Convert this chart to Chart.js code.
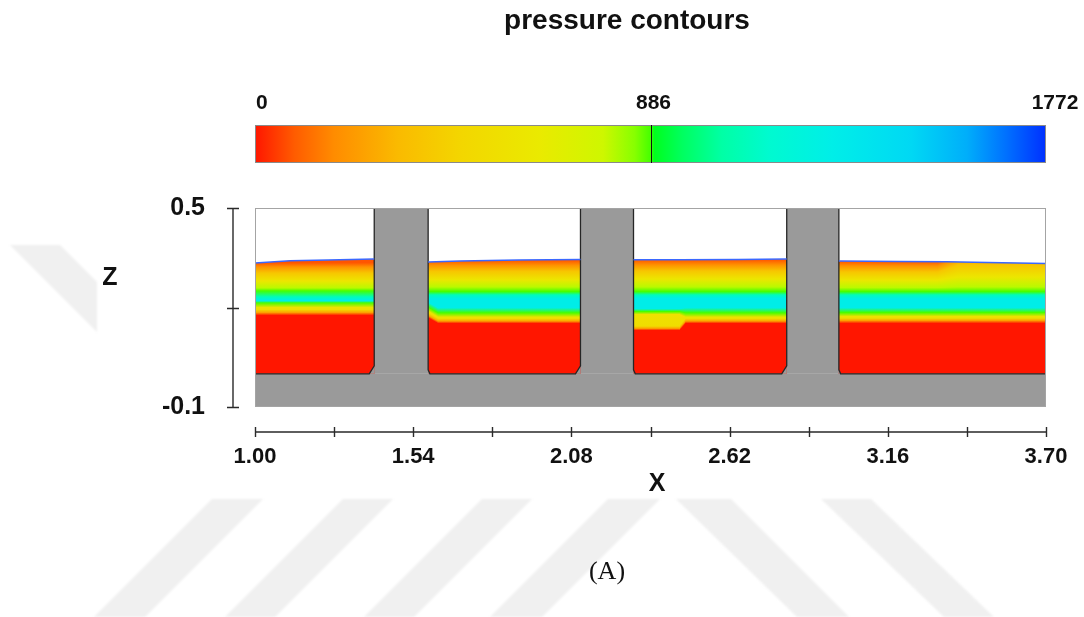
<!DOCTYPE html>
<html>
<head>
<meta charset="utf-8">
<script src="https://cdn.jsdelivr.net/npm/chart.js@4.4.1/dist/chart.umd.min.js"></script>
<style>
  html, body { margin: 0; padding: 0; background: #ffffff; }
  #wrap { width: 1084px; height: 617px; position: relative; }
</style>
</head>
<body>
<div id="wrap"><canvas id="chart"></canvas></div>
<script>
// ---- axes ----
const xTicks = [1.00, 1.27, 1.54, 1.81, 2.08, 2.35, 2.62, 2.89, 3.16, 3.43, 3.70];
const xTickLabels = ['1.00', '', '1.54', '', '2.08', '', '2.62', '', '3.16', '', '3.70'];
const zTicks = [-0.1, 0.2, 0.5];
const zTickLabels = ['-0.1', '', '0.5'];
const pressureTicks = [0, 886, 1772];
const pressureRange = [0, 1772];

// ---- geometry: tank floor, baffles (pillars) ----
const domainX = [1.0, 3.7];
const domainZ = [-0.1, 0.5];
const floorTop = 0.0;
const pillars = [[1.407, 1.591], [2.111, 2.292], [2.815, 2.993]];

// ---- free surface in each compartment (x, z) ----
const surface1 = [{x: 1.000, y: 0.334}, {x: 1.120, y: 0.341}, {x: 1.250, y: 0.343}, {x: 1.407, y: 0.346}];
const surface2 = [{x: 1.591, y: 0.337}, {x: 1.700, y: 0.340}, {x: 1.900, y: 0.343}, {x: 2.111, y: 0.345}];
const surface3 = [{x: 2.292, y: 0.344}, {x: 2.450, y: 0.344}, {x: 2.650, y: 0.345}, {x: 2.815, y: 0.346}];
const surface4 = [{x: 2.993, y: 0.340}, {x: 3.200, y: 0.339}, {x: 3.360, y: 0.338}, {x: 3.550, y: 0.335}, {x: 3.700, y: 0.333}];

// ---- pressure field: contour levels (Pa) and their depth z in each compartment ----
const levelPressure = [80, 200, 380, 600, 800, 886, 1100, 1300, 1300, 886, 560, 520, 250, 0];
const cell1X = [1.000];
const cell1Z = [
  [0.335, 0.322, 0.304, 0.280, 0.259, 0.250, 0.232, 0.222, 0.220, 0.214, 0.200, 0.194, 0.185, 0.176]
];
const cell2X = [1.595, 1.625];
const cell2Z = [
  [0.343, 0.327, 0.309, 0.284, 0.262, 0.248, 0.238, 0.226, 0.214, 0.199, 0.187, 0.182, 0.174, 0.167],
  [0.343, 0.327, 0.309, 0.284, 0.262, 0.248, 0.238, 0.226, 0.199, 0.184, 0.171, 0.167, 0.159, 0.152]
];
const cell3X = [2.449, 2.470];
const cell3Z = [
  [0.345, 0.328, 0.310, 0.286, 0.262, 0.248, 0.238, 0.227, 0.196, 0.188, 0.179, 0.144, 0.137, 0.131],
  [0.345, 0.328, 0.310, 0.286, 0.262, 0.248, 0.238, 0.227, 0.199, 0.184, 0.171, 0.167, 0.159, 0.152]
];
const cell4X = [3.330, 3.400];
const cell4Z = [
  [0.340, 0.325, 0.307, 0.283, 0.260, 0.248, 0.238, 0.226, 0.199, 0.185, 0.173, 0.168, 0.161, 0.152],
  [0.358, 0.348, 0.328, 0.292, 0.262, 0.248, 0.238, 0.226, 0.199, 0.185, 0.173, 0.168, 0.161, 0.152]
];

const cells = [
  {x0: domainX[0],    x1: pillars[0][0], ax: cell1X, az: cell1Z, surf: surface1},
  {x0: pillars[0][1], x1: pillars[1][0], ax: cell2X, az: cell2Z, surf: surface2},
  {x0: pillars[1][1], x1: pillars[2][0], ax: cell3X, az: cell3Z, surf: surface3},
  {x0: pillars[2][1], x1: domainX[1],    ax: cell4X, az: cell4Z, surf: surface4}
];

// ---- colour map: red (low) -> yellow -> green -> cyan -> blue (high) ----
const cmapStops = [
  [0.000, [255, 22, 0]],
  [0.050, [255, 92, 0]],
  [0.100, [255, 140, 0]],
  [0.180, [250, 186, 0]],
  [0.260, [243, 214, 0]],
  [0.360, [234, 234, 0]],
  [0.440, [206, 247, 0]],
  [0.480, [135, 255, 0]],
  [0.500, [70, 255, 0]],
  [0.505, [0, 255, 30]],
  [0.540, [0, 255, 95]],
  [0.590, [0, 255, 165]],
  [0.650, [0, 250, 208]],
  [0.730, [0, 238, 232]],
  [0.830, [0, 216, 244]],
  [0.900, [0, 174, 250]],
  [0.950, [0, 112, 255]],
  [1.000, [0, 48, 255]]
];
function cmapT(t) {
  t = Math.max(0, Math.min(1, t));
  for (let i = 0; i < cmapStops.length - 1; i++) {
    const [t0, c0] = cmapStops[i], [t1, c1] = cmapStops[i + 1];
    if (t <= t1) {
      const f = (t - t0) / (t1 - t0 || 1);
      return 'rgb(' + c0.map((v, k) => Math.round(v + (c1[k] - v) * f)).join(',') + ')';
    }
  }
  return 'rgb(' + cmapStops[cmapStops.length - 1][1].join(',') + ')';
}
function cmap(p) {
  return cmapT((p - pressureRange[0]) / (pressureRange[1] - pressureRange[0]));
}

function levelsAt(ax, az, x) {
  if (ax.length === 1 || x <= ax[0]) return az[0];
  if (x >= ax[ax.length - 1]) return az[az.length - 1];
  for (let i = 0; i < ax.length - 1; i++) {
    if (x <= ax[i + 1]) {
      const f = (x - ax[i]) / (ax[i + 1] - ax[i]);
      return az[i].map((z, k) => z + (az[i + 1][k] - z) * f);
    }
  }
  return az[az.length - 1];
}
function surfaceAt(pts, x) {
  if (x <= pts[0].x) return pts[0].y;
  for (let i = 0; i < pts.length - 1; i++) {
    if (x <= pts[i + 1].x) {
      const f = (x - pts[i].x) / (pts[i + 1].x - pts[i].x);
      return pts[i].y + (pts[i + 1].y - pts[i].y) * f;
    }
  }
  return pts[pts.length - 1].y;
}

// faint diagonal bands printed behind the figure
const backgroundBands = [
  [[10, 245], [60, 245], [97, 282], [97, 332]],
  [[212, 499], [263, 499], [145, 617], [94, 617]],
  [[343, 499], [393, 499], [275, 617], [225, 617]],
  [[482, 499], [532, 499], [414, 617], [364, 617]],
  [[608, 499], [660, 499], [542, 617], [490, 617]],
  [[676, 499], [731, 499], [849, 617], [797, 617]],
  [[821, 499], [871, 499], [994, 617], [944, 617]]
];

// prefer a condensed sans for the numeric labels when one is installed
function fontInstalled(name) {
  const c = document.createElement('canvas').getContext('2d');
  const sample = '0123456789 XZ pressure';
  c.font = 'bold 40px monospace';
  const w0 = c.measureText(sample).width;
  c.font = 'bold 40px "' + name + '", monospace';
  return Math.abs(c.measureText(sample).width - w0) > 0.5;
}
const FONT = '"Liberation Sans", Arial, Helvetica, sans-serif';
const HAS_NARROW = fontInstalled('Liberation Sans Narrow');
const NARROW = HAS_NARROW ? '"Liberation Sans Narrow", ' + FONT : FONT;
const xTickSize = HAS_NARROW ? 25 : 22;
const cbLabelSize = HAS_NARROW ? 23 : 21;

const footDx = 0.017, footDz = 0.024, filletDx = 0.006, filletDz = 0.012;

const fieldPlugin = {
  id: 'pressureField',
  beforeDraw(chart) {
    const ctx = chart.ctx;
    ctx.save();
    ctx.fillStyle = '#f0f0f0';
    ctx.filter = 'blur(0.8px)';
    backgroundBands.forEach(poly => {
      ctx.beginPath();
      poly.forEach(([px, py], i) => i ? ctx.lineTo(px, py) : ctx.moveTo(px, py));
      ctx.closePath();
      ctx.fill();
    });
    ctx.restore();
  },
  beforeDatasetsDraw(chart) {
    const {ctx, chartArea: a, scales} = chart;
    const xs = scales.x, ys = scales.y;
    const X = v => xs.getPixelForValue(v), Y = v => ys.getPixelForValue(v);
    ctx.save();
    ctx.beginPath();
    ctx.rect(a.left, a.top, a.right - a.left, a.bottom - a.top);
    ctx.clip();

    // fluid: one vertical gradient strip per pixel column
    const yFloor = Y(floorTop);
    cells.forEach(c => {
      const pL = Math.floor(X(c.x0)), pR = Math.ceil(X(c.x1));
      for (let px = pL; px < pR; px++) {
        const xv = xs.getValueForPixel(px + 0.5);
        const lv = levelsAt(c.ax, c.az, xv);
        const ySurf = Y(surfaceAt(c.surf, xv));
        const yl = lv.map(z => Y(z));
        const g0 = Math.min(yl[0], ySurf), g1 = yFloor;
        const g = ctx.createLinearGradient(0, g0, 0, g1);
        yl.forEach((yy, k) => {
          g.addColorStop(Math.max(0, Math.min(1, (yy - g0) / (g1 - g0))), cmap(levelPressure[k]));
        });
        g.addColorStop(1, cmap(levelPressure[levelPressure.length - 1]));
        ctx.fillStyle = g;
        ctx.fillRect(px, ySurf, 1, yFloor - ySurf);
      }
    });

    // solid: floor slab and baffles
    ctx.fillStyle = '#9a9a9a';
    ctx.fillRect(X(domainX[0]), Y(floorTop), X(domainX[1]) - X(domainX[0]), Y(domainZ[0]) - Y(floorTop));
    pillars.forEach(([p0, p1]) => {
      ctx.fillRect(X(p0), Y(domainZ[1]), X(p1) - X(p0), Y(floorTop) - Y(domainZ[1]));
      ctx.beginPath();
      ctx.moveTo(X(p0 - footDx), Y(floorTop));
      ctx.lineTo(X(p0), Y(footDz));
      ctx.lineTo(X(p0), Y(floorTop));
      ctx.closePath();
      ctx.fill();
      ctx.beginPath();
      ctx.moveTo(X(p1), Y(floorTop));
      ctx.lineTo(X(p1), Y(filletDz));
      ctx.lineTo(X(p1 + filletDx), Y(floorTop));
      ctx.closePath();
      ctx.fill();
    });

    // wetted wall outline
    ctx.strokeStyle = '#262626';
    ctx.lineWidth = 1.3;
    ctx.beginPath();
    ctx.moveTo(X(domainX[0]), Y(floorTop));
    pillars.forEach(([p0, p1]) => {
      ctx.lineTo(X(p0 - footDx), Y(floorTop));
      ctx.lineTo(X(p0), Y(footDz));
      ctx.lineTo(X(p0), Y(domainZ[1]));
      ctx.moveTo(X(p1), Y(domainZ[1]));
      ctx.lineTo(X(p1), Y(filletDz));
      ctx.lineTo(X(p1 + filletDx), Y(floorTop));
    });
    ctx.lineTo(X(domainX[1]), Y(floorTop));
    ctx.stroke();
    ctx.restore();
  },
  afterDraw(chart) {
    const {ctx, chartArea: a, scales} = chart;
    const xs = scales.x, ys = scales.y;
    ctx.save();

    // frame of the plotted domain
    ctx.strokeStyle = '#a4a4a4';
    ctx.lineWidth = 1;
    ctx.strokeRect(a.left + 0.5, a.top + 0.5, a.right - a.left - 1, a.bottom - a.top - 1);

    // detached axis lines with crossing tick marks
    ctx.strokeStyle = '#2a2a2a';
    ctx.lineWidth = 1.4;
    const axY = a.bottom + 25;
    ctx.beginPath();
    ctx.moveTo(xs.getPixelForValue(xTicks[0]), axY);
    ctx.lineTo(xs.getPixelForValue(xTicks[xTicks.length - 1]), axY);
    xTicks.forEach(v => {
      const px = Math.round(xs.getPixelForValue(v)) + 0.5;
      ctx.moveTo(px, axY - 5);
      ctx.lineTo(px, axY + 5);
    });
    const axX = a.left - 22;
    ctx.moveTo(axX, ys.getPixelForValue(zTicks[0]));
    ctx.lineTo(axX, ys.getPixelForValue(zTicks[zTicks.length - 1]));
    zTicks.forEach(v => {
      const py = Math.round(ys.getPixelForValue(v)) + 0.5;
      ctx.moveTo(axX - 6, py);
      ctx.lineTo(axX + 6, py);
    });
    ctx.stroke();

    // colour bar
    const cbTop = 125, cbBot = 163;
    const cbX = p => a.left + (p - pressureRange[0]) / (pressureRange[1] - pressureRange[0]) * (a.right - a.left);
    const grad = ctx.createLinearGradient(cbX(pressureRange[0]), 0, cbX(pressureRange[1]), 0);
    cmapStops.forEach(([t, c]) => grad.addColorStop(t, 'rgb(' + c.join(',') + ')'));
    ctx.fillStyle = grad;
    ctx.fillRect(cbX(pressureRange[0]), cbTop, cbX(pressureRange[1]) - cbX(pressureRange[0]), cbBot - cbTop);
    ctx.strokeStyle = '#8a8a8a';
    ctx.lineWidth = 1;
    ctx.strokeRect(cbX(pressureRange[0]) + 0.5, cbTop + 0.5, cbX(pressureRange[1]) - cbX(pressureRange[0]) - 1, cbBot - cbTop - 1);
    ctx.strokeStyle = '#111';
    ctx.beginPath();
    const midX = Math.round(cbX(pressureTicks[1])) + 0.5;
    ctx.moveTo(midX, cbTop);
    ctx.lineTo(midX, cbBot);
    ctx.stroke();

    ctx.fillStyle = '#111';
    ctx.textBaseline = 'middle';
    ctx.font = 'bold ' + cbLabelSize + 'px ' + NARROW;
    ctx.textAlign = 'left';
    ctx.fillText(String(pressureTicks[0]), cbX(pressureTicks[0]) + 1, 103);
    ctx.textAlign = 'center';
    ctx.fillText(String(pressureTicks[1]), cbX(pressureTicks[1]) + 3, 103);
    ctx.fillText(String(pressureTicks[2]), cbX(pressureTicks[2]) + 9, 103);

    // titles and labels
    ctx.font = 'bold 28px ' + FONT;
    ctx.fillText('pressure contours', 627, 21);
    ctx.font = 'bold 25px ' + FONT;
    ctx.fillText('Z', 110, 278);
    ctx.fillText('X', 657, 484);
    ctx.font = '26px "Liberation Serif", "Times New Roman", serif';
    ctx.fillText('(A)', 607, 572);
    ctx.restore();
  }
};

const lineStyle = {showLine: true, pointRadius: 0, borderColor: '#3a68ff', borderWidth: 1.5, fill: false, tension: 0};

new Chart(document.getElementById('chart'), {
  type: 'scatter',
  data: {
    datasets: [
      Object.assign({label: 'surface 1', data: surface1}, lineStyle),
      Object.assign({label: 'surface 2', data: surface2}, lineStyle),
      Object.assign({label: 'surface 3', data: surface3}, lineStyle),
      Object.assign({label: 'surface 4', data: surface4}, lineStyle)
    ]
  },
  options: {
    responsive: true,
    maintainAspectRatio: false,
    animation: false,
    devicePixelRatio: 1,
    layout: {padding: {left: 0, right: 38, top: 208, bottom: 0}},
    plugins: {legend: {display: false}, tooltip: {enabled: false}, title: {display: false}},
    scales: {
      x: {
        type: 'linear',
        min: domainX[0],
        max: domainX[1],
        grid: {display: false, drawTicks: false},
        border: {display: false},
        afterBuildTicks: s => { s.ticks = xTicks.map(v => ({value: v})); },
        afterFit: s => { s.height = 210; s.paddingLeft = 0; s.paddingRight = 0; },
        ticks: {
          autoSkip: false,
          maxRotation: 0,
          padding: 37,
          color: '#111',
          font: {family: NARROW, weight: 'bold', size: xTickSize},
          callback: (v, i) => xTickLabels[i]
        }
      },
      y: {
        type: 'linear',
        min: domainZ[0],
        max: domainZ[1],
        grid: {display: false, drawTicks: false},
        border: {display: false},
        afterBuildTicks: s => { s.ticks = zTicks.map(v => ({value: v})); },
        afterFit: s => { s.width = 255; s.paddingTop = 0; s.paddingBottom = 0; },
        ticks: {
          autoSkip: false,
          padding: 50,
          color: '#111',
          font: {family: FONT, weight: 'bold', size: 25},
          callback: (v, i) => zTickLabels[i]
        }
      }
    }
  },
  plugins: [fieldPlugin]
});
</script>
</body>
</html>
